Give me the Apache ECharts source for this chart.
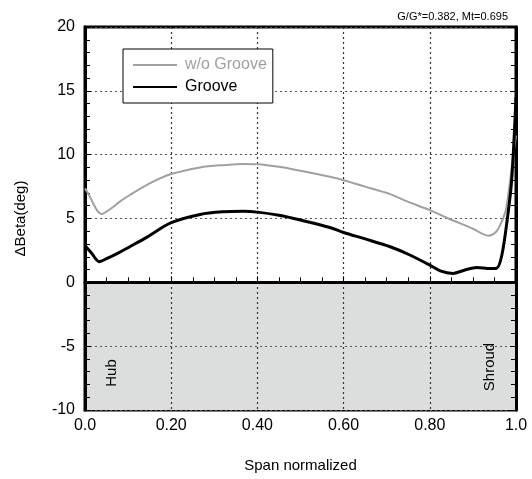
<!DOCTYPE html>
<html>
<head>
<meta charset="utf-8">
<script src="https://cdn.jsdelivr.net/npm/echarts@6/dist/echarts.min.js"></script>
<style>
  html, body { margin: 0; padding: 0; background: #fff; }
  #chart { width: 532px; height: 479px; }
</style>
</head>
<body>
<div id="chart"></div>
<script>
// span normalized / delta beta
var noGrooveX = [0, 0.01, 0.02, 0.03, 0.039, 0.05, 0.066, 0.08, 0.104, 0.15, 0.2, 0.267, 0.32, 0.37, 0.4, 0.45, 0.5, 0.568, 0.6, 0.65, 0.708, 0.75, 0.8, 0.846, 0.9, 0.936, 0.955, 0.97, 0.978, 0.993, 1.0];
var noGrooveY = [7.36, 6.8, 6.1, 5.55, 5.35, 5.55, 5.92, 6.3, 6.84, 7.75, 8.48, 9.0, 9.18, 9.27, 9.25, 9.05, 8.74, 8.27, 8.0, 7.5, 6.91, 6.3, 5.66, 4.96, 4.2, 3.65, 4.0, 5.0, 5.9, 9.8, 11.5];
var grooveX = [0, 0.015, 0.033, 0.05, 0.08, 0.104, 0.143, 0.2, 0.267, 0.32, 0.367, 0.4, 0.45, 0.5, 0.568, 0.6, 0.65, 0.708, 0.75, 0.8, 0.824, 0.854, 0.88, 0.909, 0.94, 0.955, 0.967, 0.98, 0.99, 1.0];
var grooveY = [2.87, 2.3, 1.62, 1.85, 2.35, 2.79, 3.52, 4.67, 5.32, 5.52, 5.56, 5.5, 5.25, 4.88, 4.3, 3.9, 3.4, 2.79, 2.2, 1.35, 0.9, 0.7, 0.95, 1.17, 1.08, 1.1, 2.1, 5.0, 8.0, 14.5];
var xTickLabels = {0: '0.0', 0.2: '0.20', 0.4: '0.40', 0.6: '0.60', 0.8: '0.80', 1: '1.0'};

function pairs(xs, ys) {
    var out = [];
    for (var i = 0; i < xs.length; i++) out.push([xs[i], ys[i]]);
    return out;
}

var chart = echarts.init(document.getElementById('chart'));
var font = 'Liberation Sans, Arial, sans-serif';

var option = {
    animation: false,
    textStyle: { fontFamily: font },
    grid: {
        left: 85, right: 16, top: 27, bottom: 69,
        show: true, borderColor: '#000', borderWidth: 3, backgroundColor: 'transparent'
    },
    legend: {
        left: 123, top: 49, z: 10,
        orient: 'vertical',
        backgroundColor: '#fff',
        borderColor: '#000', borderWidth: 1,
        padding: [8, 6, 8, 9],
        itemWidth: 44, itemHeight: 14, itemGap: 6,
        itemStyle: { opacity: 0 },
        textStyle: { fontSize: 16, fontFamily: font, padding: [0, 0, 0, 3] },
        data: [
            { name: 'w/o Groove', textStyle: { color: '#a0a0a0' } },
            { name: 'Groove', textStyle: { color: '#000' } }
        ]
    },
    xAxis: {
        type: 'value', min: 0, max: 1, interval: 0.2, z: 3,
        name: 'Span normalized', nameLocation: 'middle', nameGap: 48,
        nameTextStyle: { fontSize: 15, color: '#000' },
        axisLine: { show: true, lineStyle: { color: '#000', width: 3 } },
        axisTick: { show: true, inside: true, length: 6, lineStyle: { color: '#000' } },
        minorTick: { show: true, splitNumber: 4, length: 5, lineStyle: { color: '#000' } },
        axisLabel: {
            fontSize: 16, color: '#000', margin: 8,
            formatter: function (v) { return xTickLabels[Math.round(v * 10) / 10]; }
        },
        splitLine: { show: true, lineStyle: { color: '#333', type: [2, 3], width: 1.2 } }
    },
    yAxis: [{
        type: 'value', min: -10, max: 20, interval: 5, z: 3,
        name: 'ΔBeta(deg)', nameLocation: 'middle', nameGap: 57,
        nameTextStyle: { fontSize: 15, color: '#000' },
        axisLine: { show: true, lineStyle: { color: '#000', width: 3 } },
        axisTick: { show: true, inside: true, length: 6, lineStyle: { color: '#000' } },
        minorTick: { show: true, splitNumber: 5, length: 5, lineStyle: { color: '#000' } },
        axisLabel: { fontSize: 16, color: '#000', margin: 10 },
        splitLine: { show: true, lineStyle: { color: '#555', type: [2, 3], width: 1.2 } }
    }, {
        type: 'value', min: -10, max: 20, interval: 5, position: 'right', z: 3,
        axisLine: { show: true, lineStyle: { color: '#000', width: 3 } },
        axisTick: { show: true, inside: true, length: 6, lineStyle: { color: '#000' } },
        minorTick: { show: true, splitNumber: 5, length: 5, lineStyle: { color: '#000' } },
        axisLabel: { show: false },
        splitLine: { show: false }
    }],
    graphic: [
        { type: 'text', right: 24, top: 11, style: { text: 'G/G*=0.382, Mt=0.695', fill: '#000', font: '11px ' + font } },
        { type: 'text', x: 112, y: 373, rotation: Math.PI / 2, z: 5,
          style: { text: 'Hub', fill: '#000', font: '15px ' + font, align: 'center', verticalAlign: 'middle' } },
        { type: 'text', x: 490, y: 367, rotation: Math.PI / 2, z: 5,
          style: { text: 'Shroud', fill: '#000', font: '15px ' + font, align: 'center', verticalAlign: 'middle' } }
    ],
    series: [{
        name: 'shade', type: 'line', data: [], z: 1, silent: true,
        markArea: {
            silent: true,
            itemStyle: { color: '#dcdddd' },
            data: [[{ yAxis: -10 }, { yAxis: 0 }]]
        }
    }, {
        name: 'w/o Groove', type: 'line', smooth: 0.3, showSymbol: false, symbol: 'none', z: 4,
        data: pairs(noGrooveX, noGrooveY),
        lineStyle: { color: '#a0a0a0', width: 2 },
        itemStyle: { color: '#a0a0a0' }
    }, {
        name: 'Groove', type: 'line', smooth: 0.3, showSymbol: false, symbol: 'none', z: 4,
        data: pairs(grooveX, grooveY),
        lineStyle: { color: '#000', width: 3 },
        itemStyle: { color: '#000' },
        markLine: {
            silent: true, symbol: 'none', label: { show: false },
            lineStyle: { color: '#000', width: 3, type: 'solid' },
            data: [{ yAxis: 0 }]
        }
    }]
};
chart.setOption(option);
window.addEventListener('resize', function () {
    chart.resize();
});
</script>
</body>
</html>
